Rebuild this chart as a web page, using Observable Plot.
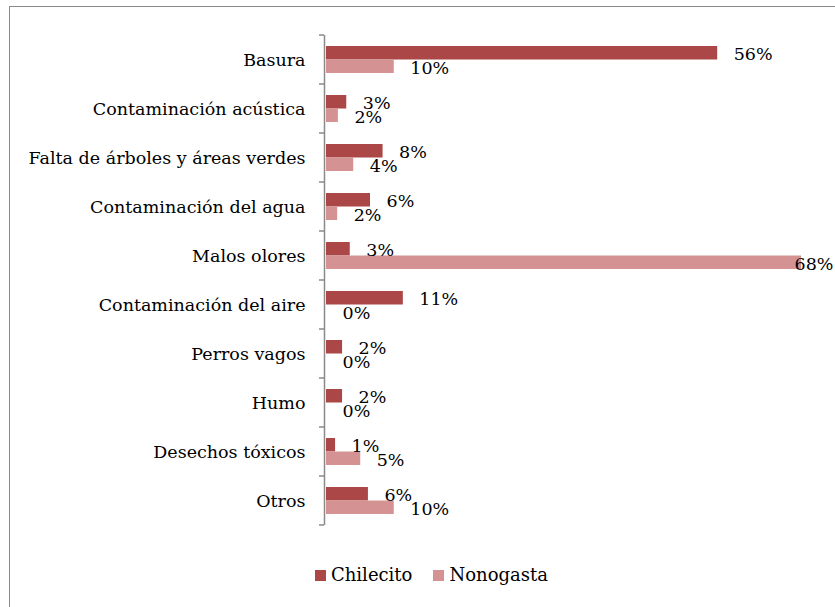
<!DOCTYPE html>
<html>
<head>
<meta charset="utf-8">
<script src="https://cdn.jsdelivr.net/npm/d3@7"></script>
<script src="https://cdn.jsdelivr.net/npm/@observablehq/plot@0.6"></script>
<style>
  html, body { margin: 0; padding: 0; background: #fff; overflow: hidden; }
  #wrap { position: relative; width: 835px; height: 607px; overflow: hidden; font-family: 'DejaVu Serif', serif; }
  #frame { position: absolute; left: 9px; top: 6px; width: 900px; height: 700px; border: 1px solid #8a8a8a; box-sizing: border-box; }
  #chart { position: absolute; left: 0; top: 0; }
  #legend { position: absolute; left: 315px; top: 564px; display: flex; align-items: center; font-family: 'DejaVu Serif', serif; font-size: 18px; color: #000; }
  #legend .item { display: flex; align-items: center; margin-right: 21px; }
  #legend .sw { width: 11px; height: 11px; margin-right: 5px; margin-top: 2px; }
</style>
</head>
<body>
<div id="wrap">
  <div id="frame"></div>
  <div id="chart"></div>
  <div id="legend"></div>
</div>
<script>
const categories = [
  "Basura",
  "Contaminación acústica",
  "Falta de árboles y áreas verdes",
  "Contaminación del agua",
  "Malos olores",
  "Contaminación del aire",
  "Perros vagos",
  "Humo",
  "Desechos tóxicos",
  "Otros"
];
const seriesNames = ["Chilecito", "Nonogasta"];
const chilecito = [56, 2.9, 8.1, 6.3, 3.4, 11, 2.3, 2.3, 1.3, 6];
const nonogasta = [9.7, 1.7, 3.9, 1.6, 68, 0, 0, 0, 4.9, 9.7];
const colors = ["#ab4746", "#d49392"];

const rows = categories.flatMap((c, i) => [
  {cat: c, series: seriesNames[0], value: chilecito[i]},
  {cat: c, series: seriesNames[1], value: nonogasta[i]}
]);
const cRows = rows.filter(d => d.series === seriesNames[0]);
const nRows = rows.filter(d => d.series === seriesNames[1]);
const fmt = d => Math.round(d.value) + "%";
const xMax = 68;

const font = "'DejaVu Serif', serif";
const fs = 17.5;

const boundaryTicks = (index, scales, values, dimensions) => {
  const g = d3.create("svg:g");
  const y = scales.y;
  const bw = y.bandwidth();
  const ys = categories.map(c => y(c)).concat([y(categories[categories.length - 1]) + bw]);
  const x0 = scales.x(0) - 2;
  for (const yy of ys) {
    g.append("line")
      .attr("x1", x0 - 5).attr("x2", x0)
      .attr("y1", yy).attr("y2", yy)
      .attr("stroke", "#8a8a8a").attr("stroke-width", 1.5);
  }
  return g.node();
};

const chart = Plot.plot({
  width: 835,
  height: 560,
  marginTop: 35,
  marginBottom: 35,
  marginLeft: 326,
  marginRight: 34,
  style: {fontFamily: font, fontSize: fs + "px", color: "#000", background: "transparent", overflow: "visible"},
  x: {domain: [0, xMax], axis: null},
  y: {domain: categories, padding: 0, label: null},
  marks: [
    Plot.axisY({tickSize: 0, tickPadding: 21, label: null, fontSize: fs, fill: "#000", fontFamily: font}),
    Plot.barX(cRows, {x: "value", y: "cat", fill: colors[0], insetTop: 11, insetBottom: 24.5}),
    Plot.barX(nRows, {x: "value", y: "cat", fill: colors[1], insetTop: 24.5, insetBottom: 11}),
    Plot.ruleX([0], {stroke: "#8a8a8a", strokeWidth: 1.5, dx: -2}),
    boundaryTicks,
    Plot.text(cRows.filter(d => d.value < xMax - 8), {x: "value", y: "cat", text: fmt, dx: 16, dy: -5.5, textAnchor: "start", fontSize: fs, fill: "#000", fontFamily: font}),
    Plot.text(cRows.filter(d => d.value >= xMax - 8), {x: "value", y: "cat", text: fmt, dx: 32, dy: -5.5, textAnchor: "end", fontSize: fs, fill: "#000", fontFamily: font}),
    Plot.text(nRows.filter(d => d.value < xMax - 8), {x: "value", y: "cat", text: fmt, dx: 16, dy: 8.5, textAnchor: "start", fontSize: fs, fill: "#000", fontFamily: font}),
    Plot.text(nRows.filter(d => d.value >= xMax - 8), {x: "value", y: "cat", text: fmt, dx: 32, dy: 8.5, textAnchor: "end", fontSize: fs, fill: "#000", fontFamily: font})
  ]
});
document.getElementById("chart").appendChild(chart);

const legend = document.getElementById("legend");
seriesNames.forEach((s, i) => {
  const item = document.createElement("div");
  item.className = "item";
  const sw = document.createElement("span");
  sw.className = "sw";
  sw.style.background = colors[i];
  const t = document.createElement("span");
  t.textContent = s;
  item.appendChild(sw);
  item.appendChild(t);
  legend.appendChild(item);
});
</script>
</body>
</html>
